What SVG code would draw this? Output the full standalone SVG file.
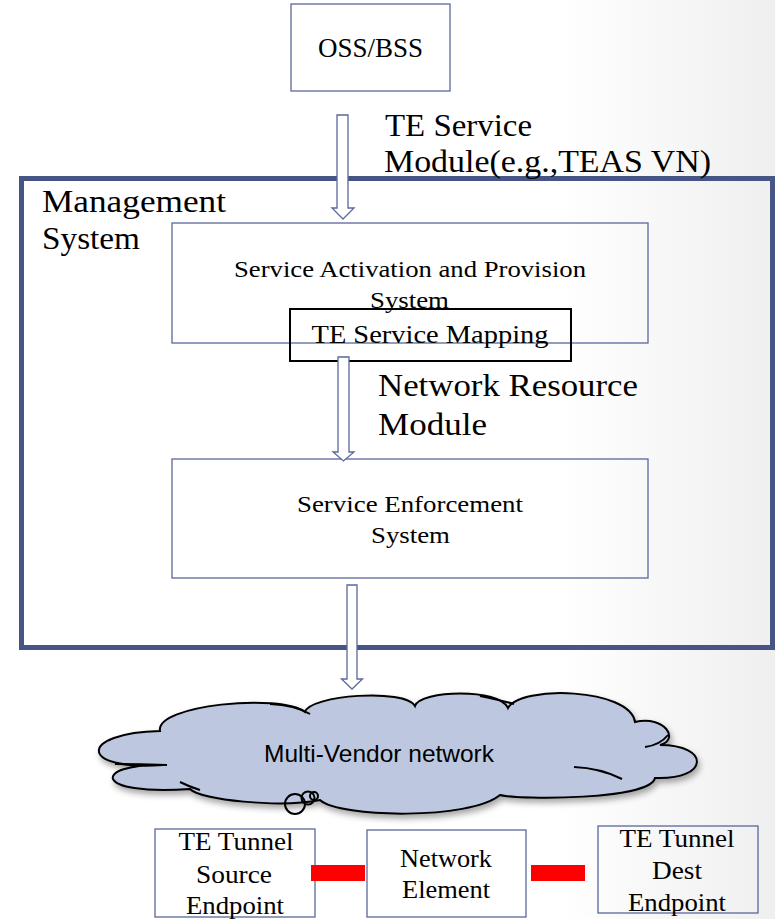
<svg xmlns="http://www.w3.org/2000/svg" width="775" height="919" viewBox="0 0 775 919">
<defs>
<linearGradient id="bg" x1="0" y1="0" x2="1" y2="0">
<stop offset="0" stop-color="#ffffff"/>
<stop offset="0.72" stop-color="#ffffff"/>
<stop offset="1" stop-color="#efefef"/>
</linearGradient>
<filter id="shadow" x="-10%" y="-10%" width="120%" height="130%">
<feDropShadow dx="2" dy="4" stdDeviation="3" flood-color="#000" flood-opacity="0.35"/>
</filter>
<style>
.box{fill:none;stroke:#5a6899;stroke-width:1.3}
.t{font-family:"Liberation Serif","Times New Roman",serif;fill:#000;text-anchor:middle}
.lbl{font-family:"Liberation Serif","Times New Roman",serif;fill:#000}
.arrow{fill:#fff;stroke:#5a6899;stroke-width:1.3}
.tail{fill:none;stroke:#000;stroke-width:2}
</style>
</defs>
<rect width="775" height="919" fill="url(#bg)"/>

<g id="oss-bss">
<rect class="box" x="291" y="4" width="159" height="87"/>
<text class="t" x="370.5" y="57" font-size="27">OSS/BSS</text>
</g>

<g id="management-system">
<rect x="21.5" y="178.5" width="751" height="469" fill="none" stroke="#465583" stroke-width="5"/>
<text class="lbl" x="42" y="212" font-size="31" textLength="184" lengthAdjust="spacingAndGlyphs">Management</text>
<text class="lbl" x="42" y="249" font-size="31" textLength="98" lengthAdjust="spacingAndGlyphs">System</text>
</g>

<g id="service-activation">
<rect class="box" x="172" y="223" width="476" height="120"/>
<text class="t" x="410" y="277" font-size="24" textLength="352" lengthAdjust="spacingAndGlyphs">Service  Activation and Provision</text>
<text class="t" x="409.5" y="308" font-size="24" textLength="79" lengthAdjust="spacingAndGlyphs">System</text>
</g>

<g id="te-service-mapping">
<rect x="290" y="309" width="281" height="52" fill="none" stroke="#000" stroke-width="2"/>
<text class="t" x="430" y="343" font-size="26" textLength="237" lengthAdjust="spacingAndGlyphs">TE Service Mapping</text>
</g>

<g id="service-enforcement">
<rect class="box" x="172" y="459" width="476" height="119"/>
<text class="t" x="410" y="512" font-size="24" textLength="226" lengthAdjust="spacingAndGlyphs">Service Enforcement</text>
<text class="t" x="410.5" y="543" font-size="24" textLength="79" lengthAdjust="spacingAndGlyphs">System</text>
</g>

<g id="multi-vendor-network">
<path filter="url(#shadow)" fill="#bdc8e0" stroke="#000" stroke-width="2" d="M160,731 C155,705 280,693 305,712 C310,695 405,688 415,706 C420,690 500,688 508,708 C520,685 630,688 635,722 C665,715 680,740 660,745 C710,745 710,780 655,778 C650,800 520,800 500,795 C470,820 340,818 320,800 C280,808 200,800 190,789 C92,796 92,764 163,765 C78,771 78,733 160,731 Z"/>
<path class="tail" d="M270,704 Q295,705 310,714"/>
<path class="tail" d="M480,696 Q500,700 514,704"/>
<path class="tail" d="M668,735 Q660,745 645,747"/>
<path class="tail" d="M574,767 Q600,768 622,779"/>
<path class="tail" d="M115,764 Q140,764 167,765"/>
<path class="tail" d="M180,782 Q190,787 200,790"/>
<circle cx="295" cy="804" r="10" fill="none" stroke="#000" stroke-width="2"/>
<circle cx="308" cy="798" r="6.5" fill="none" stroke="#000" stroke-width="2"/>
<circle cx="314" cy="796" r="4" fill="none" stroke="#000" stroke-width="2"/>
<text x="379" y="762" font-family="'Liberation Sans',Arial,sans-serif" font-size="24" fill="#000" text-anchor="middle" textLength="230" lengthAdjust="spacingAndGlyphs">Multi-Vendor network</text>
</g>

<g id="te-tunnel-source">
<rect class="box" x="155" y="829" width="160" height="88"/>
<text class="t" x="236" y="850" font-size="25" textLength="115" lengthAdjust="spacingAndGlyphs">TE Tunnel</text>
<text class="t" x="234" y="883" font-size="25" textLength="76" lengthAdjust="spacingAndGlyphs">Source</text>
<text class="t" x="235" y="914" font-size="25" textLength="98" lengthAdjust="spacingAndGlyphs">Endpoint</text>
</g>

<g id="network-element">
<rect class="box" x="367" y="830" width="159" height="87"/>
<text class="t" x="446" y="867" font-size="25" textLength="92" lengthAdjust="spacingAndGlyphs">Network</text>
<text class="t" x="446" y="898" font-size="25" textLength="88" lengthAdjust="spacingAndGlyphs">Element</text>
</g>

<g id="te-tunnel-dest">
<rect class="box" x="598" y="826" width="160" height="87"/>
<text class="t" x="677" y="847" font-size="25" textLength="115" lengthAdjust="spacingAndGlyphs">TE Tunnel</text>
<text class="t" x="677" y="879" font-size="25" textLength="50" lengthAdjust="spacingAndGlyphs">Dest</text>
<text class="t" x="677" y="911" font-size="25" textLength="98" lengthAdjust="spacingAndGlyphs">Endpoint</text>
</g>

<g id="connectors">
<polygon class="arrow" points="337,115 348,115 348,208 354,208 343,219 332,208 337,208"/>
<polygon class="arrow" points="338,357 349,357 349,452 354,452 343.5,461 333,452 338,452"/>
<polygon class="arrow" points="347,585 357,585 357,679 362.5,679 352,689 341.5,679 347,679"/>
<rect x="311" y="865" width="54" height="16" fill="#ff0000"/>
<rect x="531" y="865" width="54" height="16" fill="#ff0000"/>
<text class="lbl" x="385" y="136" font-size="31" textLength="147" lengthAdjust="spacingAndGlyphs">TE Service</text>
<text class="lbl" x="384" y="172" font-size="31" textLength="327" lengthAdjust="spacingAndGlyphs">Module(e.g.,TEAS VN)</text>
<text class="lbl" x="378" y="396" font-size="31" textLength="260" lengthAdjust="spacingAndGlyphs">Network Resource</text>
<text class="lbl" x="378" y="435" font-size="31" textLength="109" lengthAdjust="spacingAndGlyphs">Module</text>
</g>
</svg>
